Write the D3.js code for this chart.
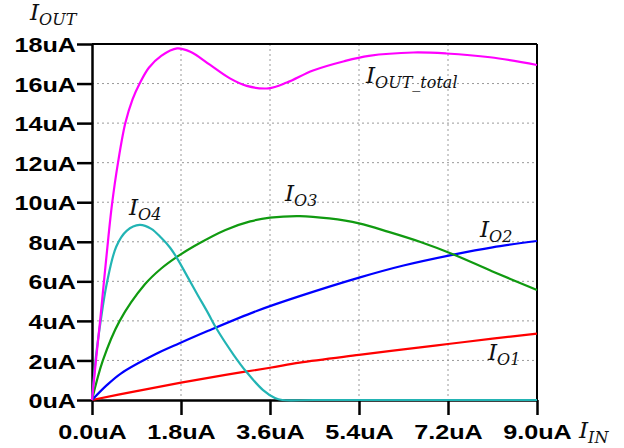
<!DOCTYPE html>
<html>
<head>
<meta charset="utf-8">
<script src="https://cdnjs.cloudflare.com/ajax/libs/d3/7.8.5/d3.min.js"></script>
<style>
  body { margin: 0; background: #fff; }
  svg { display: block; }
</style>
</head>
<body>
<svg id="chart" width="624" height="448"></svg>
<script>
//----- Data -----
var xTicks = [0, 1.8, 3.6, 5.4, 7.2, 9.0];
var yTicks = [0, 2, 4, 6, 8, 10, 12, 14, 16, 18];

// I_OUT_total
var totalX = [0, 0.08, 0.164, 0.25, 0.33, 0.405, 0.526, 0.674, 0.82, 0.964, 1.15, 1.4, 1.72, 2.0, 2.39, 2.79, 3.13, 3.57, 3.94, 4.47, 5.1, 5.6, 6.5, 7.17, 8.05, 9.0];
var totalY = [0, 2.0, 4.0, 6.2, 8.2, 9.9, 12.0, 14.0, 15.2, 16.0, 16.8, 17.4, 17.78, 17.6, 16.94, 16.26, 15.88, 15.76, 16.05, 16.66, 17.13, 17.4, 17.57, 17.52, 17.33, 16.94];

// I_O4
var o4X = [0, 0.08, 0.17, 0.3, 0.49, 0.7, 0.964, 1.2, 1.4, 1.58, 1.725, 1.95, 2.14, 2.35, 2.52, 2.86, 3.13, 3.46, 3.7, 3.85, 4.5, 9.0];
var o4Y = [0, 2.2, 3.9, 5.9, 7.75, 8.55, 8.85, 8.65, 8.2, 7.7, 7.15, 6.15, 5.3, 4.38, 3.6, 2.3, 1.4, 0.5, 0.1, 0, 0, 0];

// I_O3
var o3X = [0, 0.22, 0.56, 1.07, 1.4, 1.725, 2.08, 2.7, 3.2, 3.6, 4.2, 4.8, 5.4, 6.0, 6.63, 7.3, 8.1, 9.0];
var o3Y = [0, 2.0, 4.0, 5.85, 6.65, 7.25, 7.8, 8.6, 9.03, 9.22, 9.3, 9.18, 8.93, 8.5, 8.0, 7.37, 6.5, 5.56];

// I_O2
var o2X = [0, 0.3, 0.59, 1.27, 1.77, 2.35, 3.33, 4.2, 5.42, 6.3, 7.31, 8.1, 9.0];
var o2Y = [0, 0.75, 1.35, 2.3, 2.87, 3.5, 4.5, 5.25, 6.2, 6.8, 7.35, 7.72, 8.04];

// I_O1
var o1X = [0, 0.9, 1.8, 2.7, 3.6, 4.2, 5.4, 6.3, 7.2, 8.1, 9.0];
var o1Y = [0, 0.45, 0.88, 1.27, 1.63, 1.89, 2.28, 2.56, 2.83, 3.1, 3.36];

var seriesNames = ['total', 'o4', 'o3', 'o2', 'o1'];
var seriesColors = ['#ff00ff', '#22b4b4', '#109a10', '#0000ff', '#ff0000'];
var seriesX = [totalX, o4X, o3X, o2X, o1X];
var seriesY = [totalY, o4Y, o3Y, o2Y, o1Y];

// curve label subscripts
var labelSubs = ['OUT_total', 'O4', 'O3', 'O2', 'O1'];

//----- Setup -----
var svg = d3.select('#chart');
// note: "top" is taken by window.top, so prefix these
var plotLeft = 92, plotRight = 537, plotTop = 44, plotBottom = 400;

var x = d3.scaleLinear().domain([0, 9]).range([plotLeft, plotRight]);
var y = d3.scaleLinear().domain([0, 18]).range([plotBottom, plotTop]);

var stretch = 1.2;
var tickFont = '"Liberation Sans", Arial, sans-serif';
var mathFont = '"DejaVu Serif", serif';

//----- Grid -----
svg.append('g').selectAll('line')
   .data(xTicks.slice(1, -1))
   .enter().append('line')
   .attr('x1', function(d) { return x(d); })
   .attr('x2', function(d) { return x(d); })
   .attr('y1', plotTop).attr('y2', plotBottom)
   .attr('stroke', '#9a9a9a').attr('stroke-width', 1)
   .attr('stroke-dasharray', '2,3');

svg.append('g').selectAll('line')
   .data(yTicks.slice(1, -1))
   .enter().append('line')
   .attr('y1', function(d) { return y(d); })
   .attr('y2', function(d) { return y(d); })
   .attr('x1', plotLeft).attr('x2', plotRight)
   .attr('stroke', '#9a9a9a').attr('stroke-width', 1)
   .attr('stroke-dasharray', '2,3');

//----- Frame -----
svg.append('line').attr('x1', plotLeft).attr('x2', plotRight).attr('y1', plotTop).attr('y2', plotTop)
   .attr('stroke', '#000').attr('stroke-width', 2);
svg.append('line').attr('x1', plotRight).attr('x2', plotRight).attr('y1', plotTop).attr('y2', plotBottom)
   .attr('stroke', '#000').attr('stroke-width', 2);

//----- Axes -----
var yAxis = d3.axisLeft(y)
  .tickValues(yTicks)
  .tickSize(15)
  .tickSizeOuter(0)
  .tickFormat(function(d) { return d + 'uA'; });

var xAxis = d3.axisBottom(x)
  .tickValues(xTicks)
  .tickSize(15)
  .tickSizeOuter(0)
  .tickFormat(function(d) { return d3.format('.1f')(d) + 'uA'; });

var gy = svg.append('g').attr('transform', 'translate(' + plotLeft + ',0)').call(yAxis);
var gx = svg.append('g').attr('transform', 'translate(0,' + plotBottom + ')').call(xAxis);

[gx, gy].forEach(function(g) {
  g.select('.domain').attr('stroke', '#000').attr('stroke-width', 2.5);
  g.selectAll('.tick line').attr('stroke', '#000').attr('stroke-width', 2.5);
  g.selectAll('.tick text')
   .attr('fill', '#000')
   .style('font-family', tickFont)
   .style('font-weight', 'bold')
   .style('font-size', '21px');
});

// labels look horizontally stretched in the original
gy.selectAll('.tick text')
  .attr('x', -16 / stretch)
  .attr('dy', '0.36em')
  .attr('transform', 'scale(' + stretch + ',1)');

gx.selectAll('.tick text')
  .attr('y', 39)
  .attr('dy', 0)
  .attr('transform', 'scale(' + stretch + ',1)');

//----- Curves -----
// drawn after the axes: in the original the flat cyan tail sits on top of the x axis
var line = d3.line()
  .x(function(d) { return x(d[0]); })
  .y(function(d) { return y(Math.max(0, d[1])); })
  .curve(d3.curveCatmullRom.alpha(0.5));

// bottom series first so magenta ends up on top
for (var i = seriesNames.length - 1; i >= 0; i--) {
  var pts = d3.zip(seriesX[i], seriesY[i]);
  svg.append('path')
     .datum(pts)
     .attr('class', 'curve ' + seriesNames[i])
     .attr('fill', 'none')
     .attr('stroke', seriesColors[i])
     .attr('stroke-width', 2.2)
     .attr('d', line);
}

//----- Math labels -----
function mathLabel(px, py, sub) {
  var t = svg.append('text')
    .attr('x', px).attr('y', py)
    .style('font-family', mathFont)
    .style('font-style', 'italic')
    .attr('fill', '#111');
  t.append('tspan').style('font-size', '23px').text('I');
  t.append('tspan').style('font-size', '16px').attr('dy', 5).text(sub);
  return t;
}

mathLabel(30, 20, 'OUT');
mathLabel(579, 438, 'IN');

var labelX = [366, 129, 285, 480, 488];
var labelY = [83, 215, 201, 237, 360];
labelSubs.forEach(function(s, i) {
  mathLabel(labelX[i], labelY[i], s);
});
</script>
</body>
</html>
